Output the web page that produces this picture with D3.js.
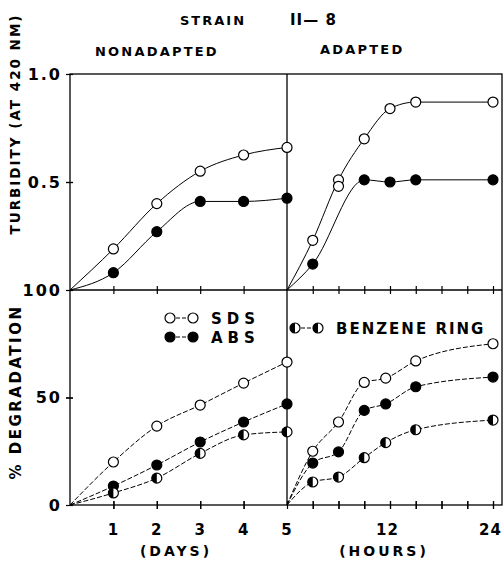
<!DOCTYPE html>
<html>
<head>
<meta charset="utf-8">
<script src="https://cdn.jsdelivr.net/npm/d3@7"></script>
<style>
  body { margin: 0; background: #fff; }
  text { font-family: "DejaVu Sans", sans-serif; font-weight: bold; fill: #000; }
</style>
</head>
<body>
<div id="chart-area"></div>
<script>
// values
let days = [1, 2, 3, 4, 5]
let turbSdsNon = [0.19, 0.40, 0.55, 0.625, 0.66]
let turbAbsNon = [0.08, 0.27, 0.41, 0.41, 0.425]
let turbSdsHours = [3, 6, 6, 9, 12, 15, 24]
let turbSdsAd = [0.23, 0.51, 0.48, 0.70, 0.84, 0.87, 0.87]
let turbAbsHours = [3, 9, 12, 15, 24]
let turbAbsAd = [0.12, 0.51, 0.50, 0.51, 0.51]

let degSdsNon = [20, 36.7, 46.5, 56.7, 66.5]
let degAbsNon = [8.8, 18.6, 29.3, 38.6, 47]
let degRingNon = [5.6, 12.5, 24, 32.6, 34]
let degHours = [3, 6, 9, 11.5, 15, 24]
let degSdsAd = [25, 38.6, 57, 59, 67, 75]
let degAbsAd = [19.5, 24.7, 44, 47, 55, 59.5]
let degRingAd = [10.7, 13, 22, 29, 35, 39.5]

let dayTicks = [1, 2, 3, 4, 5]
let hourTicks = [3, 6, 9, 12, 15, 18, 21, 24]
let hourLabels = [12, 24]

let width = 504
let height = 564

let svg = d3.select("#chart-area")
  .append("svg")
    .attr("width", width)
    .attr("height", height)

let xDay = d3.scaleLinear().domain([0, 5]).range([70, 287])
let xHour = d3.scaleLinear().domain([0, 24]).range([287, 493])
let yTurb = d3.scaleLinear().domain([0, 1]).range([290, 74])
let yDeg = d3.scaleLinear().domain([0, 100]).range([505, 290])

let right = 502

// frame
let frame = svg.append("g").attr("stroke", "#000").attr("stroke-width", 1.3).attr("fill", "none")
frame.append("rect").attr("x", xDay(0)).attr("y", yTurb(1)).attr("width", right - xDay(0)).attr("height", yDeg(0) - yTurb(1))
frame.append("line").attr("x1", xDay(5)).attr("x2", xDay(5)).attr("y1", yTurb(1)).attr("y2", yDeg(0))
frame.append("line").attr("x1", xDay(0)).attr("x2", right).attr("y1", yTurb(0)).attr("y2", yTurb(0))

// crossing ticks on the two horizontal axes
function crossTicks(sel) {
  sel.select(".domain").remove()
  sel.selectAll(".tick line").attr("y1", -4).attr("y2", 4).attr("stroke-width", 1.2)
  sel.selectAll("text").attr("font-size", "15px").attr("letter-spacing", "2px")
}

svg.append("g")
  .attr("transform", "translate(0," + yTurb(0) + ")")
  .call(d3.axisBottom(xDay).tickValues([1, 2, 3, 4]).tickFormat(""))
  .call(crossTicks)
svg.append("g")
  .attr("transform", "translate(0," + yTurb(0) + ")")
  .call(d3.axisBottom(xHour).tickValues(hourTicks).tickFormat(""))
  .call(crossTicks)

svg.append("g")
  .attr("transform", "translate(0," + yDeg(0) + ")")
  .call(d3.axisBottom(xDay).tickValues(dayTicks).tickSize(0).tickPadding(19).tickFormat(d => d))
  .call(crossTicks)
svg.append("g")
  .attr("transform", "translate(0," + yDeg(0) + ")")
  .call(d3.axisBottom(xDay).tickValues([1, 2, 3, 4]).tickFormat(""))
  .call(crossTicks)
svg.append("g")
  .attr("transform", "translate(0," + yDeg(0) + ")")
  .call(d3.axisBottom(xHour).tickValues(hourTicks).tickFormat(d => hourLabels.includes(d) ? d : "").tickSize(0).tickPadding(19))
  .call(crossTicks)
  .call(g => g.selectAll("text").attr("letter-spacing", "1px").attr("dx", "-3"))
svg.append("g")
  .attr("transform", "translate(0," + yDeg(0) + ")")
  .call(d3.axisBottom(xHour).tickValues(hourTicks).tickFormat(""))
  .call(crossTicks)

// left axis labels
function leftTicks(sel) {
  sel.select(".domain").remove()
  sel.selectAll(".tick line").attr("x1", -4).attr("x2", 3).attr("stroke-width", 1.2)
  sel.selectAll("text").attr("font-size", "16px").attr("letter-spacing", "2px")
}
svg.append("g")
  .attr("transform", "translate(" + xDay(0) + ",0)")
  .call(d3.axisLeft(yTurb).tickValues([0.5, 1]).tickFormat(d3.format(".1f")).tickSize(0).tickPadding(8))
  .call(leftTicks)
svg.append("g")
  .attr("transform", "translate(" + xDay(0) + ",0)")
  .call(d3.axisLeft(yTurb).tickValues([0.5]).tickFormat(""))
  .call(leftTicks)
svg.append("g")
  .attr("transform", "translate(" + xDay(0) + ",0)")
  .call(d3.axisLeft(yDeg).tickValues([0, 50, 100]).tickSize(0).tickPadding(8))
  .call(leftTicks)
svg.append("g")
  .attr("transform", "translate(" + xDay(0) + ",0)")
  .call(d3.axisLeft(yDeg).tickValues([50]).tickFormat(""))
  .call(leftTicks)

// curves start at the origin of each panel
function drawCurve(xs, ys, x, y, dash) {
  let pts = [[0, 0]]
  xs.forEach((d, i) => { if (pts[pts.length - 1][0] !== d) pts.push([d, ys[i]]) })
  svg.append("path")
    .attr("d", d3.line().x(d => x(d[0])).y(d => y(d[1])).curve(d3.curveMonotoneX)(pts))
    .attr("fill", "none")
    .attr("stroke", "#000")
    .attr("stroke-width", 1)
    .attr("stroke-dasharray", dash)
}

function marker(cx, cy, type) {
  let r = 5
  if (type === "open") {
    svg.append("circle").attr("cx", cx).attr("cy", cy).attr("r", r)
      .attr("fill", "#fff").attr("stroke", "#000").attr("stroke-width", 1.2)
  } else if (type === "filled") {
    svg.append("circle").attr("cx", cx).attr("cy", cy).attr("r", r)
      .attr("fill", "#000").attr("stroke", "#000").attr("stroke-width", 1.2)
  } else {
    svg.append("circle").attr("cx", cx).attr("cy", cy).attr("r", r)
      .attr("fill", "#fff").attr("stroke", "#000").attr("stroke-width", 1.2)
    svg.append("path")
      .attr("d", "M" + cx + "," + (cy - r) + "A" + r + "," + r + " 0 0 0 " + cx + "," + (cy + r) + "Z")
      .attr("fill", "#000")
  }
}

function drawSeries(xs, ys, x, y, type, dash) {
  drawCurve(xs, ys, x, y, dash)
  xs.forEach((d, i) => marker(x(d), y(ys[i]), type))
}

drawSeries(days, turbSdsNon, xDay, yTurb, "open", null)
drawSeries(days, turbAbsNon, xDay, yTurb, "filled", null)
drawSeries(turbSdsHours, turbSdsAd, xHour, yTurb, "open", null)
drawSeries(turbAbsHours, turbAbsAd, xHour, yTurb, "filled", null)

drawSeries(days, degSdsNon, xDay, yDeg, "open", "5,2")
drawSeries(days, degAbsNon, xDay, yDeg, "filled", "5,2")
drawSeries(days, degRingNon, xDay, yDeg, "half", "5,2")
drawSeries(degHours, degSdsAd, xHour, yDeg, "open", "5,2")
drawSeries(degHours, degAbsAd, xHour, yDeg, "filled", "5,2")
drawSeries(degHours, degRingAd, xHour, yDeg, "half", "5,2")

// legends
function legendRow(x, y, type, label, spacing) {
  svg.append("line").attr("x1", x).attr("x2", x + 23).attr("y1", y).attr("y2", y)
    .attr("stroke", "#000").attr("stroke-width", 1).attr("stroke-dasharray", "4,2")
  marker(x, y, type)
  marker(x + 23, y, type)
  svg.append("text").attr("x", x + 41).attr("y", y + 5.5)
    .attr("font-size", "15px").attr("letter-spacing", spacing).text(label)
}
legendRow(170, 318, "open", "SDS", "5px")
legendRow(170, 337, "filled", "ABS", "5px")
legendRow(295, 328, "half", "BENZENE RING", "2px")

// titles
svg.append("text").attr("x", 180).attr("y", 25).attr("font-size", "13px").attr("letter-spacing", "2px").text("STRAIN")
svg.append("text").attr("x", 290).attr("y", 25).attr("font-size", "15px").attr("letter-spacing", "1px").text("II— 8")
svg.append("text").attr("x", 95).attr("y", 56).attr("font-size", "13px").attr("letter-spacing", "2.2px").text("NONADAPTED")
svg.append("text").attr("x", 320).attr("y", 54).attr("font-size", "13px").attr("letter-spacing", "2.2px").text("ADAPTED")

svg.append("text").attr("transform", "translate(20,124) rotate(-90)")
  .attr("text-anchor", "middle").attr("font-size", "13.5px").attr("letter-spacing", "2px")
  .text("TURBIDITY (AT 420 NM)")
svg.append("text").attr("transform", "translate(21,392) rotate(-90)")
  .attr("text-anchor", "middle").attr("font-size", "15px").attr("letter-spacing", "2.5px")
  .text("% DEGRADATION")

svg.append("text").attr("x", 176).attr("y", 556).attr("text-anchor", "middle")
  .attr("font-size", "14px").attr("letter-spacing", "3px").text("(DAYS)")
svg.append("text").attr("x", 384).attr("y", 556).attr("text-anchor", "middle")
  .attr("font-size", "14px").attr("letter-spacing", "3px").text("(HOURS)")
</script>
</body>
</html>
